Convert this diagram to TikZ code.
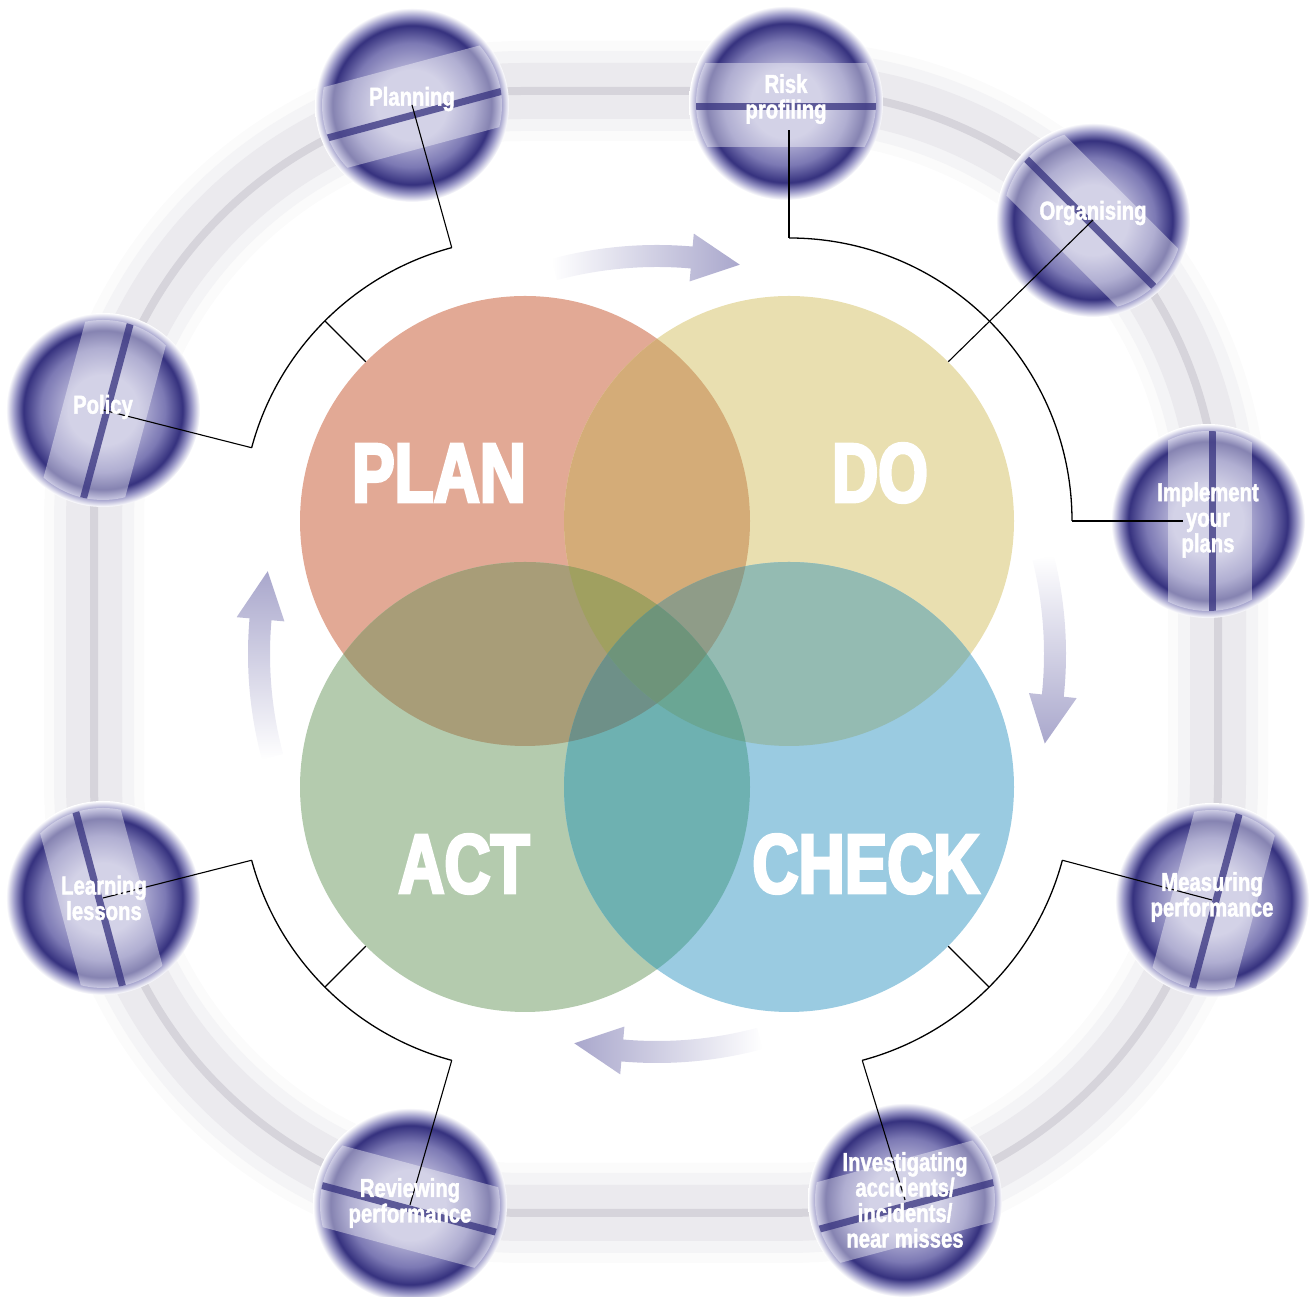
\documentclass[tikz,border=0pt]{standalone}
\usepackage{fontspec}
\newfontfamily\bigfont{Liberation Sans Bold}[FakeStretch=0.76, FakeBold=3.5]
\newfontfamily\heavyfont{Liberation Sans Bold}[FakeStretch=0.78, FakeBold=1.6]
\usetikzlibrary{calc}

\definecolor{plancol}{HTML}{E2A995}
\definecolor{docol}{HTML}{E9DFB0}
\definecolor{actcol}{HTML}{B4CBAE}
\definecolor{checkcol}{HTML}{9ACBE1}
\definecolor{pdcol}{HTML}{D4AC78}
\definecolor{pacol}{HTML}{A89D78}
\definecolor{dccol}{HTML}{94BBB2}
\definecolor{accol}{HTML}{6EB1B1}
\definecolor{pdacol}{HTML}{A0A060}
\definecolor{pdccol}{HTML}{8F9C88}
\definecolor{paccol}{HTML}{6E9088}
\definecolor{daccol}{HTML}{6AA694}
\definecolor{allcol}{HTML}{6E947A}
\definecolor{arrowcol}{HTML}{A9A7CC}
\definecolor{sphdark}{HTML}{35317E}
\definecolor{sphmid}{HTML}{7C79B4}
\definecolor{sphlite}{HTML}{B7B5D8}
\definecolor{sphedge}{HTML}{9896C6}
\definecolor{trackcol}{HTML}{E4E3E8}
\definecolor{trackline}{HTML}{D6D4DB}

\pgfdeclareradialshading{sphere}{\pgfpoint{0bp}{0bp}}{%
  color(0bp)=(sphlite); color(9bp)=(sphlite); color(16bp)=(sphmid);
  color(20.5bp)=(sphdark); color(22.8bp)=(sphedge); color(25bp)=(white);
  color(50bp)=(white)}

\tikzset{
  venn/.style={circle, minimum size=450, inner sep=0},
  ball/.style={circle, minimum size=194, inner sep=0, shade, shading=sphere},
  bigword/.style={text=white, font=\bigfont\fontsize{84}{84}\selectfont},
  lbl/.style={text=white, align=center, inner sep=0,
    font=\heavyfont\fontsize{26}{25.5}\selectfont},
  bracket/.style={black, line width=1.3},
  link/.style={black, line width=1.1},
}

% band and stripe across a ball
\newcommand\ballband[3]{%
  \begin{scope}
    \clip (#1.center) circle[radius=90];
    \begin{scope}[shift={(#1.center)}, rotate=#2]
      \fill[white, opacity=0.4] (-110,-44) rectangle (110,40);
      \fill[sphdark, opacity=0.75] (-110,{#3-3.5}) rectangle (110,{#3+3.5});
    \end{scope}
  \end{scope}}

% curved shaded arrow round the middle
\newcommand\cyclearrow[2]{%
  \shade[#2] ({#1+14}:409) arc[start angle={#1+14}, end angle={#1-6}, radius=409]
    -- ({#1-6}:422) -- ({#1-13}:398) -- ({#1-6}:374) -- ({#1-6}:387)
    arc[start angle={#1-6}, end angle={#1+14}, radius=387] -- cycle;}

\begin{document}
\begin{tikzpicture}[x=1pt, y=1pt]
    \useasboundingbox (0,0) rectangle (1310,1297);

    % Track behind the balls
    \draw[trackcol!15, line width=100, rounded corners=430] (94,84) rectangle (1218,1206);
    \draw[trackcol!40, line width=80, rounded corners=430] (94,84) rectangle (1218,1206);
    \draw[trackcol!75, line width=56, rounded corners=430] (94,84) rectangle (1218,1206);
    \draw[trackline, line width=8, rounded corners=430] (94,84) rectangle (1218,1206);

    % Balls
    \node[ball] (planning) at (412,1192) {};
    \node[ball] (risk) at (786,1194) {};
    \node[ball] (organising) at (1093,1077) {};
    \node[ball] (implement) at (1208,776) {};
    \node[ball] (measuring) at (1212,397) {};
    \node[ball] (investigating) at (905,97) {};
    \node[ball] (reviewing) at (410,92) {};
    \node[ball] (learning) at (103,399) {};
    \node[ball] (policy) at (103,887) {};

    \ballband{planning}{15}{-10}
    \ballband{risk}{0}{-4}
    \ballband{organising}{-45}{-4}
    \ballband{implement}{90}{-4}
    \ballband{measuring}{75}{-4}
    \ballband{investigating}{15}{-6}
    \ballband{reviewing}{-15}{-4}
    \ballband{learning}{-75}{-4}
    \ballband{policy}{75}{-4}

    % Arrows round the circles
    \begin{scope}[shift={(657,643)}]
        \cyclearrow{91}{left color=white, right color=arrowcol}
        \cyclearrow{0}{top color=white, bottom color=arrowcol}
        \cyclearrow{-89}{left color=arrowcol, right color=white}
        \cyclearrow{181}{bottom color=white, top color=arrowcol}
    \end{scope}

    % Four circles
    \node[venn, fill=plancol] (plan) at (525,776) {};
    \node[venn, fill=docol] (do) at (789,776) {};
    \node[venn, fill=actcol] (act) at (525,510) {};
    \node[venn, fill=checkcol] (check) at (789,510) {};

    % Overlaps
    \begin{scope}
        \clip (plan.center) circle[radius=225];
        \fill[pdcol] (do.center) circle[radius=225];
        \fill[pacol] (act.center) circle[radius=225];
    \end{scope}
    \begin{scope}
        \clip (check.center) circle[radius=225];
        \fill[dccol] (do.center) circle[radius=225];
        \fill[accol] (act.center) circle[radius=225];
    \end{scope}
    \begin{scope}
        \clip (plan.center) circle[radius=225];
        \clip (do.center) circle[radius=225];
        \fill[pdacol] (act.center) circle[radius=225];
        \fill[pdccol] (check.center) circle[radius=225];
    \end{scope}
    \begin{scope}
        \clip (act.center) circle[radius=225];
        \clip (check.center) circle[radius=225];
        \fill[paccol] (plan.center) circle[radius=225];
        \fill[daccol] (do.center) circle[radius=225];
    \end{scope}
    \begin{scope}
        \clip (plan.center) circle[radius=225];
        \clip (do.center) circle[radius=225];
        \clip (act.center) circle[radius=225];
        \fill[allcol] (check.center) circle[radius=225];
    \end{scope}

    \node[bigword] at ($(plan)+(-86,48)$) {PLAN};
    \node[bigword] at ($(do)+(91,48)$) {DO};
    \node[bigword] at ($(act)+(-61,-77)$) {ACT};
    \node[bigword] at ($(check)+(77,-77)$) {CHECK};

    % Brackets
    \coordinate (plan-a) at ($(plan)+(105:283)$);
    \coordinate (plan-b) at ($(plan)+(165:283)$);
    \coordinate (do-a) at ($(do)+(90:283)$);
    \coordinate (do-b) at ($(do)+(0:283)$);
    \coordinate (check-a) at ($(check)+(-15:283)$);
    \coordinate (check-b) at ($(check)+(-75:283)$);
    \coordinate (act-a) at ($(act)+(195:283)$);
    \coordinate (act-b) at ($(act)+(255:283)$);
    \coordinate (risk-in) at ($(risk)+(3,-27)$);
    \coordinate (implement-in) at ($(implement)+(-25,0)$);

    \draw[bracket] (plan-a) arc[start angle=105, end angle=165, radius=283];
    \draw[bracket] (do-a) arc[start angle=90, end angle=0, radius=283];
    \draw[bracket] (check-a) arc[start angle=-15, end angle=-75, radius=283];
    \draw[bracket] (act-a) arc[start angle=195, end angle=255, radius=283];
    \draw[bracket] (plan.135) -- ($(plan)+(135:283)$);
    \draw[bracket] (check.-45) -- ($(check)+(-45:283)$);
    \draw[bracket] (act.225) -- ($(act)+(225:283)$);

    % Links to the balls
    \draw[link] (plan-a) -- (planning.center);
    \draw[link] (plan-b) -- (policy.center);
    \draw[link] (do-a) -- (risk-in);
    \draw[link] (do.45) -- (organising.center);
    \draw[link] (do-b) -- (implement-in);
    \draw[link] (check-a) -- (measuring.center);
    \draw[link] (check-b) -- (investigating.center);
    \draw[link] (act-b) -- (reviewing.center);
    \draw[link] (act-a) -- (learning.center);

    % Ball labels
    \node[lbl] at ($(planning)+(0,6)$) {Planning};
    \node[lbl] at ($(risk)+(0,4)$) {Risk\\profiling};
    \node[lbl] at ($(organising)+(0,7)$) {Organising};
    \node[lbl] at ($(implement)+(0,1)$) {Implement\\your\\plans};
    \node[lbl] at ($(measuring)+(0,3)$) {Measuring\\performance};
    \node[lbl] at ($(investigating)+(0,0)$) {Investigating\\accidents/\\incidents/\\near misses};
    \node[lbl] at ($(reviewing)+(0,2)$) {Reviewing\\performance};
    \node[lbl] at ($(learning)+(1,0)$) {Learning\\lessons};
    \node[lbl] at ($(policy)+(0,3)$) {Policy};
\end{tikzpicture}
\end{document}
